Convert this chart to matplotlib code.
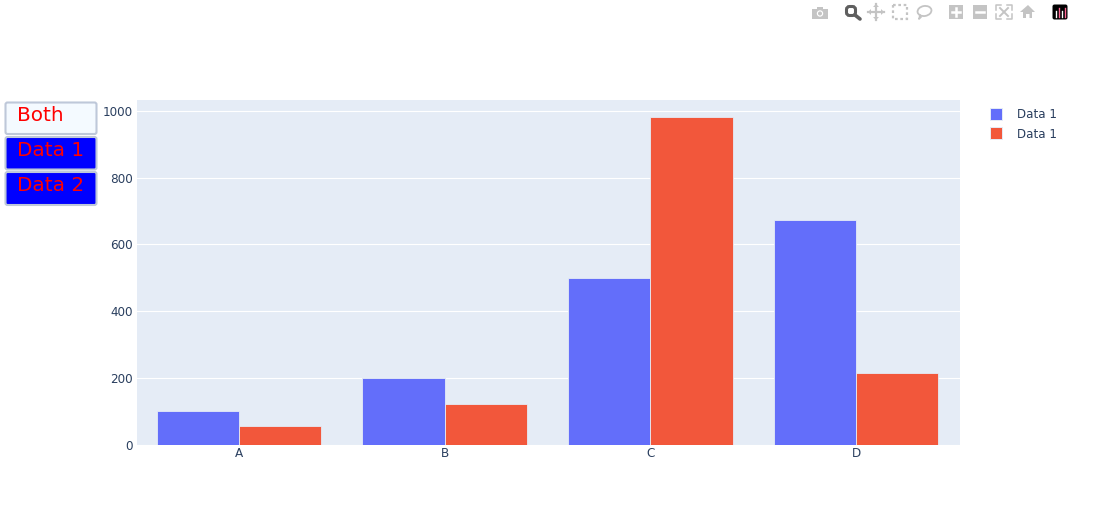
import matplotlib
matplotlib.use("Agg")
import matplotlib.pyplot as plt
from matplotlib.patches import Rectangle, FancyBboxPatch, Circle, Polygon, Ellipse
import numpy as np

categories = ["A", "B", "C", "D"]
data1 = [100, 200, 500, 672]
data2 = [55, 122, 982, 213]
y_ticks = [0, 200, 400, 600, 800, 1000]
buttons = ["Both", "Data 1", "Data 2"]
legend_labels = ["Data 1", "Data 1"]

BLUE = "#636EFA"
RED = "#F2573B"
BG = "#E5ECF6"
INK = "#2A3F5F"
W, H = 1103, 507
plt.rcParams["font.family"] = ["DejaVu Sans"]

fig = plt.figure(figsize=(W / 100, H / 100), dpi=100, facecolor="white")
L, R, T, B = 137, 960, 100, 444.5
ax = fig.add_axes([L / W, 1 - B / H, (R - L) / W, (B - T) / H], facecolor=BG)
x = np.arange(len(categories))
ax.bar(x - 0.2, data1, 0.4, color=BLUE, edgecolor=BG, linewidth=0.6, zorder=3)
ax.bar(x + 0.2, data2, 0.4, color=RED, edgecolor=BG, linewidth=0.6, zorder=3)
ax.set_xlim(-0.495, 3.505)
ax.set_ylim(0, 1033)
ax.set_xticks(x, categories)
ax.set_yticks(y_ticks)
ax.tick_params(length=0, labelsize=8.64, colors=INK, pad=3)
ax.tick_params(axis="x", pad=2)
ax.grid(axis="y", color="white", linewidth=0.8, zorder=1)
for s in ax.spines.values():
    s.set_visible(False)

ov = fig.add_axes([0, 0, 1, 1], facecolor="none")
ov.set_xlim(0, W)
ov.set_ylim(H, 0)
ov.axis("off")

# update-menu buttons
boxes = [(5.5, 102.5, 91, 31.5), (5.5, 137, 91, 32.5), (5.5, 172, 91, 33)]
fills = ["#F4FAFF", "#0000FF", "#0000FF"]
text_x = [40, 51, 51]
text_y = [115.5, 150.5, 185.5]
for (bx, by, bw, bh), fc, name, tx, ty in zip(boxes, fills, buttons, text_x, text_y):
    ov.add_patch(FancyBboxPatch((bx + 1, by + 1), bw - 2, bh - 2, boxstyle="round,pad=1,rounding_size=2",
                                fc=fc, ec="#BEC8D9", lw=1.5))
    ov.text(tx, ty, name, color="#FF0000", fontsize=14.4, ha="center", va="center")

# legend
for yc, col, lab in zip([114, 133], [BLUE, RED], legend_labels):
    ov.add_patch(Rectangle((990, yc - 6), 12, 12, fc=col, ec=BG, lw=0.7))
    ov.text(1017, yc + 1, lab, color=INK, fontsize=8.6, ha="left", va="center")

# modebar
G = "#C4C4C4"
D = "#5F5F5F"
# camera
ov.add_patch(Rectangle((812, 9), 16, 10, fc=G, ec="none"))
ov.add_patch(Rectangle((817, 7), 6, 3, fc=G, ec="none"))
ov.add_patch(Circle((820, 13.5), 3.2, fc="white", ec="none"))
ov.add_patch(Circle((820, 13.5), 2, fc=G, ec="none"))
# zoom
ov.add_patch(FancyBboxPatch((847, 7), 8, 8, boxstyle="round,pad=0.5,rounding_size=3", fc="none", ec=D, lw=2.2))
ov.plot([855, 860], [15, 19], color=D, lw=2.6, solid_capstyle="round")
# pan
ov.plot([868, 884], [12, 12], color=G, lw=1.6)
ov.plot([876, 876], [4, 20], color=G, lw=1.6)
for pts in [[(868, 12), (871, 9), (871, 15)], [(884, 12), (881, 9), (881, 15)],
            [(876, 4), (873, 7), (879, 7)], [(876, 20), (873, 17), (879, 17)]]:
    ov.add_patch(Polygon(pts, fc=G, ec="none"))
# box select
ov.add_patch(Rectangle((893, 5), 14, 14, fc="none", ec=G, lw=1.6, ls=(0, (1.2, 1.2))))
# lasso
ov.add_patch(Ellipse((924.5, 11), 14, 10, angle=-10, fc="none", ec=G, lw=1.3))
ov.plot([920, 919, 921], [15, 19, 17], color=G, lw=1.2)
# zoom in / out
ov.add_patch(Rectangle((949, 5), 14, 14, fc=G, ec="none"))
ov.plot([952, 960], [12, 12], color="white", lw=1.8)
ov.plot([956, 956], [8, 16], color="white", lw=1.8)
ov.add_patch(Rectangle((973, 5), 14, 14, fc=G, ec="none"))
ov.plot([976, 984], [12, 12], color="white", lw=1.8)
# autoscale
for cx, cy, sx, sy in [(996, 5, 1, 1), (1012, 5, -1, 1), (996, 19, 1, -1), (1012, 19, -1, -1)]:
    ov.plot([cx, cx, cx + 5 * sx], [cy + 5 * sy, cy, cy], color=G, lw=1.1)
ov.plot([1000, 1008], [8, 16], color=G, lw=1.4)
ov.plot([1008, 1000], [8, 16], color=G, lw=1.4)
# home
ov.add_patch(Polygon([(1020, 12), (1028, 5), (1035, 12), (1032, 12), (1032, 18), (1029.5, 18),
                      (1029.5, 14), (1026, 14), (1026, 18), (1023, 18), (1023, 12)], fc=G, ec="none"))
# plotly logo
ov.add_patch(FancyBboxPatch((1053.5, 5.5), 13, 13, boxstyle="round,pad=1,rounding_size=2", fc="black", ec="none"))
for lx, top, c in [(1056, 11, "white"), (1059, 8, "#FF6692"), (1062, 11, "white"), (1065, 8, "#FF6692")]:
    ov.plot([lx, lx], [top, 17], color=c, lw=1.0)

fig.savefig("out.png", dpi=100, facecolor="white")
